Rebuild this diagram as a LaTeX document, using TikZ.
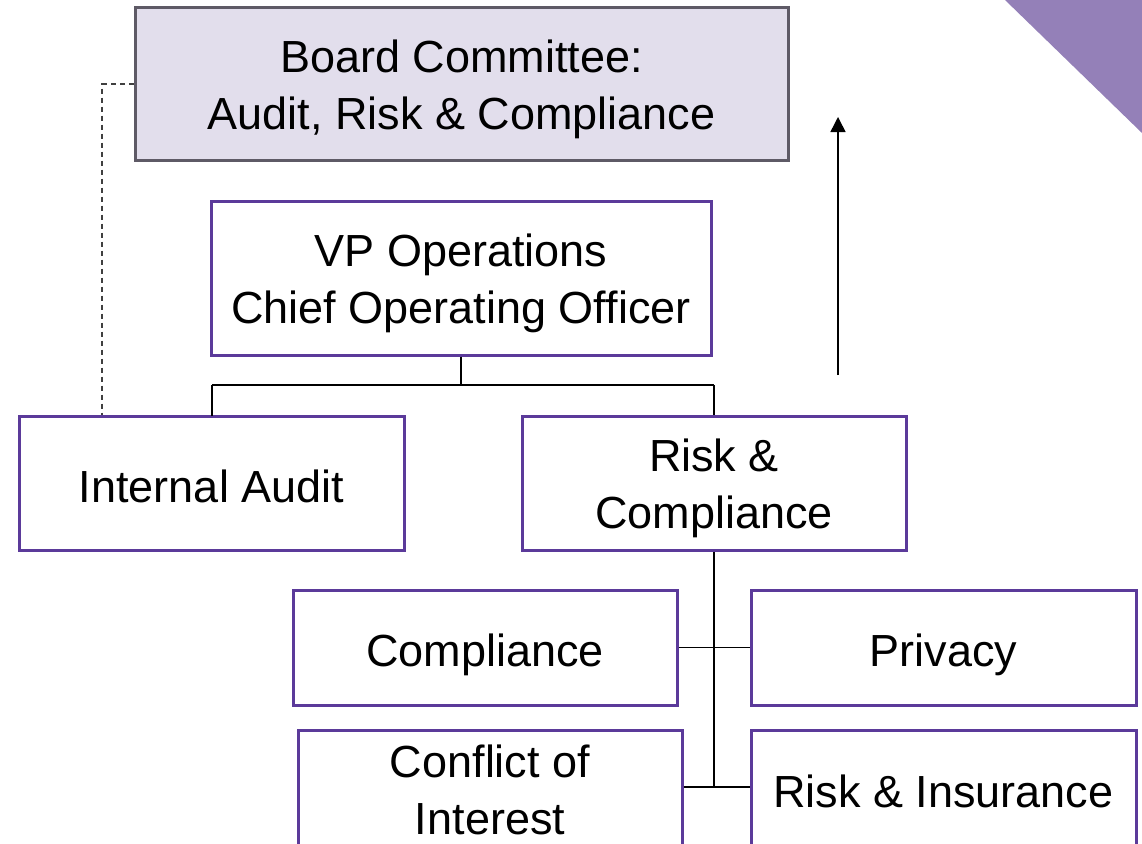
\documentclass[tikz,border=0pt]{standalone}
\usepackage{fontspec}
\setmainfont{Liberation Sans}
\usetikzlibrary{arrows.meta}
\definecolor{boxpurple}{HTML}{5B3A9A}
\definecolor{boardfill}{HTML}{E2DEEC}
\definecolor{boardline}{HTML}{5E5A66}
\definecolor{tri}{HTML}{9480B8}
\newcommand{\boxlbl}[2][-6pt]{\raisebox{#1}[\height][\depth]{\begin{tabular}{@{}c@{}}#2\end{tabular}}}
\tikzset{
  orgbox/.style={draw=boxpurple, line width=3pt, fill=white, inner sep=0pt,
    font=\fontsize{45}{57}\selectfont, text=black},
  boardbox/.style={orgbox, draw=boardline, fill=boardfill},
  conn/.style={draw=black, line width=1.5pt},
  dashconn/.style={draw=black!75, line width=1.3pt, dash pattern=on 5pt off 4pt},
}
\begin{document}
\begin{tikzpicture}[x=1pt, y=-1pt]
\useasboundingbox (0,0) rectangle (1142,843);
\clip (0,0) rectangle (1142,843);
\fill[tri] (1005,0) -- (1142,0) -- (1142,133) -- cycle;

\node[boardbox, minimum width=653pt, minimum height=152pt] (board) at (461.5,84) {\boxlbl{Board Committee:\\Audit, Risk \& Compliance}};
\node[orgbox, minimum width=500pt, minimum height=154pt] (vp) at (461,278) {\boxlbl{VP Operations\\Chief Operating Officer}};
\node[orgbox, minimum width=385pt, minimum height=134pt] (ia) at (211.5,483) {\boxlbl[-8pt]{Internal Audit}};
\node[orgbox, minimum width=384pt, minimum height=134pt] (rc) at (714,483) {\boxlbl{Risk \&\\Compliance}};
\node[orgbox, minimum width=384pt, minimum height=115pt] (comp) at (485,647.5) {\boxlbl[-8pt]{Compliance}};
\node[orgbox, minimum width=385pt, minimum height=115pt] (priv) at (943.5,647.5) {\boxlbl[-8pt]{Privacy}};
\node[orgbox, minimum width=384pt, minimum height=120pt] (coi) at (490,790) {\boxlbl[-5pt]{Conflict of\\Interest}};
\node[orgbox, minimum width=385pt, minimum height=120pt] (ri) at (943.5,790) {\boxlbl[-6pt]{Risk \& Insurance}};

\coordinate (jvp) at (461,385);
\coordinate (rcend) at (714,787);
\coordinate (arrowbot) at (838,375);
\coordinate (arrowtop) at (838,117);
\coordinate (dcorner) at (102,84);

\draw[conn] (vp.south) -- (jvp);
\draw[conn] (212,385) -- (714,385);
\draw[conn] (212,385) -- (212,416);
\draw[conn] (714,385) -- (rc.north);
\draw[conn] (rc.south) -- (rcend);
\draw[conn] (comp.east) -- (priv.west);
\draw[conn] (coi.east |- rcend) -- (ri.west |- rcend);
\draw[dashconn] (board.west) -- (dcorner) -- (ia.north -| dcorner);
\draw[conn, -{Triangle[length=15pt, width=15pt]}] (arrowbot) -- (arrowtop);
\end{tikzpicture}
\end{document}
